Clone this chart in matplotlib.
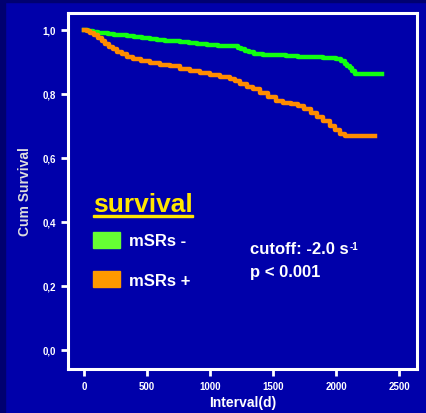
import matplotlib
matplotlib.use("Agg")
from matplotlib import pyplot as plt
from matplotlib.patches import Rectangle

# Kaplan-Meier style survival curves
green_days = [0, 30, 70, 110, 150, 190, 240, 290, 340, 400, 460, 520, 580, 640,
              700, 760, 830, 900, 980, 1060, 1160, 1220, 1250, 1280, 1310, 1350,
              1420, 1500, 1600, 1700, 1800, 1900, 2000, 2040, 2070, 2090, 2110,
              2130, 2150, 2365]
green_surv = [1.0, 0.997, 0.995, 0.992, 0.99, 0.988, 0.985, 0.983, 0.98, 0.977,
              0.975, 0.972, 0.97, 0.967, 0.965, 0.962, 0.958, 0.955, 0.953, 0.951,
              0.949, 0.945, 0.94, 0.935, 0.93, 0.926, 0.923, 0.921, 0.919, 0.917,
              0.915, 0.912, 0.908, 0.902, 0.895, 0.888, 0.88, 0.872, 0.862, 0.862]

orange_days = [0, 20, 50, 80, 110, 140, 170, 200, 230, 260, 300, 340, 390, 450,
               520, 600, 680, 760, 840, 920, 1000, 1080, 1160, 1200, 1240, 1290,
               1340, 1400, 1460, 1520, 1580, 1640, 1700, 1750, 1800, 1850, 1900,
               1950, 1990, 2030, 2070, 2310]
orange_surv = [1.0, 0.996, 0.99, 0.983, 0.975, 0.965, 0.955, 0.948, 0.94, 0.932,
               0.925, 0.917, 0.908, 0.902, 0.896, 0.891, 0.886, 0.879, 0.871, 0.864,
               0.859, 0.854, 0.847, 0.84, 0.832, 0.823, 0.814, 0.803, 0.79, 0.778,
               0.772, 0.768, 0.763, 0.752, 0.74, 0.727, 0.714, 0.70, 0.688, 0.676,
               0.667, 0.667]

x_ticks = [0, 500, 1000, 1500, 2000, 2500]
x_labels = ["0", "500", "1000", "1500", "2000", "2500"]
y_ticks = [0.0, 0.2, 0.4, 0.6, 0.8, 1.0]
y_labels = ["0,0", "0,2", "0,4", "0,6", "0,8", "1,0"]

bg = "#0000AA"
W, H = 427, 414

fig = plt.figure(figsize=(W / 100, H / 100), dpi=100, facecolor=bg)
plt.rcParams['font.family'] = ['Liberation Sans', 'DejaVu Sans']

# dark band along the left and top edge of the slide
fig.patches.append(Rectangle((0, 0), 5 / W, 1, transform=fig.transFigure,
                             color="#000070", zorder=0))
fig.patches.append(Rectangle((0, 1 - 3 / H), 1, 3 / H, transform=fig.transFigure,
                             color="#000070", zorder=0))

ax = fig.add_axes([68 / W, 1 - 370 / H, (417 - 68) / W, (370 - 14) / H])
ax.set_facecolor(bg)

ax.plot(green_days, green_surv, drawstyle='steps-post', color="#11FF11", lw=3.2)
ax.plot(orange_days, orange_surv, drawstyle='steps-post', color="#FF8C00", lw=3.2)

ax.set_xlim(-127, 2643)
ax.set_ylim(-0.06, 1.053)
ax.set_xticks(x_ticks)
ax.set_xticklabels(x_labels)
ax.set_yticks(y_ticks)
ax.set_yticklabels(y_labels)

for side in ['left', 'right', 'top', 'bottom']:
    ax.spines[side].set_color('white')
    ax.spines[side].set_linewidth(2.2)
ax.tick_params(colors='white', width=2, length=5, direction='out', labelsize=7)
for lbl in ax.get_xticklabels() + ax.get_yticklabels():
    lbl.set_fontweight('bold')

ax.set_xlabel("Interval(d)", color='white', fontsize=10, fontweight='bold', labelpad=3)
ax.set_ylabel("Cum Survival", color='#dddddd', fontsize=10, fontweight='bold', labelpad=8)

# legend drawn by hand, as on the slide
fig.text(93 / W, 1 - 212 / H, "survival", color="#FFE600", fontsize=19,
         fontweight='bold', ha='left', va='baseline')
fig.patches.append(Rectangle((93 / W, 1 - 218 / H), 100 / W, 2.5 / H,
                             transform=fig.transFigure, color="#FFE600"))
fig.patches.append(Rectangle((93 / W, 1 - 249 / H), 27 / W, 16 / H,
                             transform=fig.transFigure, color="#66FF33"))
fig.patches.append(Rectangle((93 / W, 1 - 288 / H), 27 / W, 16 / H,
                             transform=fig.transFigure, color="#FF9900"))
fig.text(129 / W, 1 - 242 / H, "mSRs -", color='white', fontsize=12,
         fontweight='bold', va='center')
fig.text(129 / W, 1 - 281 / H, "mSRs +", color='white', fontsize=12,
         fontweight='bold', va='center')

# cutoff text with its superscript placed just after it
cut = fig.text(250 / W, 1 - 250 / H, "cutoff: -2.0 s", color='white',
               fontsize=12, fontweight='bold', va='center')
fig.add_artist(plt.Annotation("-1", xy=(1.0, 1.0), xycoords=cut,
                              xytext=(1, 0), textcoords='offset points',
                              color='white', fontsize=7, fontweight='bold',
                              ha='left', va='top'))
fig.text(250 / W, 1 - 272 / H, "p < 0.001", color='white', fontsize=12,
         fontweight='bold', va='center')

fig.savefig("out.png", dpi=100, facecolor=bg)
